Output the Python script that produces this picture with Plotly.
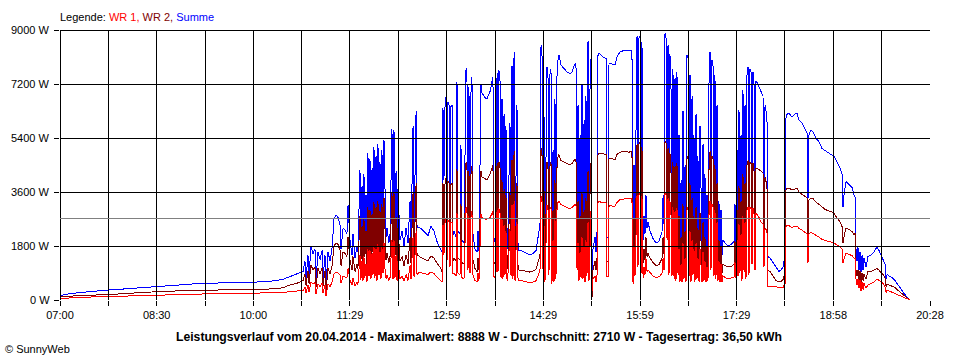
import plotly.graph_objects as go

# ---------------- data ----------------
# time in minutes since midnight, power in W
minutes = [
    420.0, 423.7, 429.3, 438.6, 452.5, 464.6, 480.4, 494.3, 509.2, 526.8, 540.7, 554.7, 573.2, 599.2, 610.4, 619.7, 627.1, 633.6, 640.1, 645.7,
    647.5, 648.5, 650.3, 651.3, 653.1, 655.0, 656.8, 657.8, 659.6, 661.5, 663.4, 664.3, 666.1, 667.1, 668.9, 670.8, 672.7, 674.5, 676.4, 678.2, 680.1, 681.0, 682.9, 684.7, 686.5, 687.5, 689.3, 691.2, 692.1, 694.0, 695.8,
    696.7, 698.6, 699.5, 700.5, 701.4, 702.3, 703.2, 704.2, 705.1, 706.0, 707.0, 707.9, 708.8, 709.8, 710.7, 711.6, 712.5, 713.5, 714.4, 715.3, 716.3, 717.2, 718.1, 719.0, 720.0, 720.9, 721.8, 722.8, 723.7, 725.5, 726.5, 728.3, 729.3, 730.2, 731.1, 732.1, 733.0, 733.9, 735.8,
    737.7, 739.5, 741.4, 743.2, 745.1, 746.0, 747.9, 748.8, 750.7, 751.6, 753.4, 756.2, 759.0, 761.8, 764.5, 767.3, 770.1, 772.9, 774.8,
    775.7, 776.6, 777.6, 778.5, 779.4, 780.3, 781.3, 782.2, 783.1, 784.1, 785.0, 785.9, 787.8, 788.7, 789.6, 791.5, 792.4, 793.3, 795.2, 797.1, 798.0, 798.9, 799.8, 800.8, 801.7, 802.6, 803.5, 805.4, 807.3, 808.2, 809.1, 811.0, 811.9, 814.7, 816.5, 819.4, 822.1, 823.1, 824.9, 825.9, 826.8, 827.7, 828.7, 829.6, 830.5, 831.4, 832.4, 833.3, 834.2, 835.2, 836.1, 837.9, 838.9, 839.8, 840.7, 841.7, 842.6, 844.4, 845.4, 846.3,
    848.1, 850.9, 853.7, 856.5, 859.3, 862.1, 863.9, 865.8,
    866.7, 867.6, 868.6, 869.5, 870.4, 871.4, 872.3, 873.2, 874.1, 875.1, 876.0, 876.9, 877.9, 878.8, 879.7, 880.6, 881.6, 882.5, 883.4, 885.3, 888.1, 890.9, 893.7, 895.5, 897.4, 899.2, 900.2, 901.1, 902.0, 903.0, 903.9, 904.8, 905.7, 906.7, 907.6, 908.5, 909.4, 910.4, 911.3, 912.2, 913.2, 914.1, 915.0, 916.9, 917.8, 918.7, 919.7,
    921.5, 924.3, 927.1, 928.0, 929.0, 929.9, 932.7, 935.4, 937.3, 940.1, 944.7, 948.5, 951.2,
    952.2, 953.1, 954.0, 955.0, 955.9, 956.8, 957.7, 958.7, 959.6, 960.5, 961.5, 962.4, 963.3, 964.2, 965.2, 966.1, 968.0, 970.7, 973.5, 976.3, 979.1, 980.1, 981.0, 981.9, 982.8, 983.8, 984.7, 985.6, 986.5, 987.5, 988.4, 989.3, 990.3, 991.2, 992.1, 993.0,
    994.0, 994.9, 995.8, 996.8, 997.7, 998.6, 999.5, 1000.5, 1001.4, 1002.3, 1003.3, 1004.2, 1005.1, 1006.0, 1007.0, 1007.9, 1008.8, 1009.7, 1010.7, 1011.6, 1012.5, 1013.5, 1014.4, 1016.3, 1017.2, 1018.1, 1019.0, 1020.0, 1020.9,
    1021.8, 1022.8, 1023.7, 1024.6, 1025.5, 1026.5, 1027.4, 1028.3, 1029.2, 1030.2, 1031.1, 1032.0, 1033.0, 1033.9, 1034.8, 1035.7, 1037.6, 1040.4, 1043.2, 1046.0, 1046.9, 1047.8, 1048.8, 1049.7, 1050.6, 1051.5, 1052.5, 1053.4, 1054.3, 1055.3, 1056.2, 1057.1, 1058.0, 1059.0, 1059.9, 1060.8, 1061.8, 1062.7, 1063.6, 1064.5, 1065.5, 1066.4, 1067.3, 1069.2, 1071.0, 1072.9, 1073.8, 1074.8, 1076.6, 1077.5, 1079.4, 1082.2, 1085.0, 1087.7, 1089.6, 1091.5, 1092.4, 1093.3,
    1094.3, 1097.0, 1099.8, 1102.6, 1104.5, 1106.3, 1109.1, 1111.9, 1113.8, 1114.7, 1115.6, 1117.5, 1119.3, 1122.1, 1124.9, 1127.7, 1130.5, 1133.3, 1136.1, 1138.9, 1141.6, 1144.4, 1146.3, 1147.2, 1148.1, 1150.0, 1152.8, 1155.6, 1157.4, 1158.4, 1159.3, 1160.2, 1161.1, 1162.1, 1163.0, 1163.9, 1164.9, 1165.8, 1166.7, 1168.6, 1170.4, 1173.2, 1176.0, 1178.8, 1180.6, 1182.5, 1184.4, 1186.2, 1187.2, 1188.1, 1190.0, 1192.7, 1195.5, 1198.3, 1201.1, 1203.9, 1206.7, 1208.5, 1209.4,
]

summe = [
    150, 180, 210, 250, 300, 330, 370, 400, 430, 490, 530, 555, 575, 590, 605, 640, 690, 780, 850, 950,
    1300, 700, 1500, 800, 1780, 1550, 1700, 650, 1600, 1350, 1650, 700, 1500, 450, 1600, 1300, 1750, 2700, 2830, 2750, 2500, 1700, 2400, 2330, 2200, 3150, 2000, 1500, 2200, 1400, 1800,
    1600, 4330, 2000, 3800, 1900, 4200, 2200, 3500, 1800, 4900, 2300, 4700, 2000, 4400, 2500, 5100, 2100, 4800, 1900, 5200, 2400, 4600, 2000, 5000, 2600, 5330, 3000, 2100, 2400, 1900, 2200, 5700, 2000, 5650, 2200, 4300, 1900, 3700, 2000,
    2300, 1800, 2400, 1900, 3300, 2000, 5800, 2200, 6300, 2400, 2430, 2350, 2250, 2150, 2450, 2300, 1950, 1750, 1600,
    6400, 4000, 6500, 6780, 3500, 6600, 6500, 3000, 6450, 6500, 2170, 2300, 2100, 7270, 2300, 2200, 5170, 2000, 1900, 7730, 7270, 2600, 7100, 2400, 6930, 7430, 2200, 1700, 1600, 2300, 1650, 7170, 6900, 6750, 6700, 6950, 7440, 1950, 2200, 7570, 2500, 7650, 7300, 2000, 6700, 1800, 6200, 2200, 5800, 1700, 2400, 5900, 2100, 7800, 1800, 8270, 1700, 6500, 1800, 1650,
    1650, 1600, 1530, 1500, 1550, 1650, 2070, 2500,
    8440, 8500, 2500, 6200, 1600, 5500, 7770, 7600, 2200, 7570, 7700, 1500, 5000, 1600, 6700, 1800, 7500, 8000, 8170, 7830, 7700, 7600, 7550, 7600, 7800, 7900, 3000, 6500, 1700, 5500, 2000, 7200, 1800, 6000, 1600, 6800, 2100, 8630, 1700, 7000, 8070, 400, 1700, 2100, 1600, 2000, 8230,
    8200, 8100, 8050, 2070, 2100, 7900, 7870, 7830, 8100, 8270, 8330, 8300, 8330,
    1400, 4500, 2000, 5800, 8800, 2800, 8730, 8800, 2200, 8600, 2000, 2800, 2200, 3500, 2400, 2600, 2300, 2050, 1900, 1950, 2270, 3500, 2500, 8890, 8800, 5000, 8500, 2200, 8200, 7000, 2000, 7700, 1800, 7400, 1700, 7600,
    2200, 5500, 1600, 4000, 1500, 6300, 1800, 4500, 1500, 8170, 8070, 2000, 7500, 1600, 6800, 2200, 5500, 1500, 6200, 1800, 4800, 1500, 5800, 1600, 5200, 1700, 4200, 1500, 3500,
    1700, 7400, 8270, 2500, 8000, 7800, 2000, 7500, 1800, 6500, 1700, 3300, 1600, 3000, 1500, 2000, 1900, 1800, 1850, 1950, 3200, 1900, 5000, 2000, 6330, 2300, 5500, 1700, 7000, 2400, 6500, 1800, 7500, 7770, 2200, 7700, 7600, 3000, 7600, 7500, 2500, 7300, 7250, 7100, 6900, 6800, 3000, 6500, 6100, 1450, 1400, 1250, 1100, 950, 1000, 1100, 1300, 1100,
    6170, 6230, 6100, 6200, 6230, 6000, 5900, 5700, 5570, 3400, 5500, 5670, 5600, 5400, 5270, 5050, 4980, 4930, 4870, 4780, 4600, 4400, 4200, 3100, 3500, 3950, 3850, 3750, 3500, 3430, 1700, 1300, 1750, 1000, 1600, 900, 1500, 1000, 1400, 1100, 1450, 1500, 1600, 1770, 1650, 1500, 1400, 1200, 700, 850, 800, 750, 650, 500, 350, 220, 100, 30, 0,
]

wr2 = [
    100, 110, 130, 150, 165, 175, 210, 250, 280, 300, 315, 325, 330, 335, 345, 370, 410, 500, 560, 650,
    850, 480, 980, 550, 1170, 1000, 1100, 450, 1050, 880, 1080, 480, 980, 320, 1050, 870, 1150, 1800, 1900, 1850, 1650, 1150, 1600, 1550, 1450, 2100, 1330, 1000, 1450, 950, 1200,
    1050, 2800, 1300, 2450, 1250, 2700, 1450, 2300, 1200, 3100, 1500, 3000, 1300, 2850, 1600, 3250, 1350, 3100, 1250, 3300, 1550, 2950, 1300, 3200, 1700, 3400, 1900, 1350, 1550, 1250, 1450, 3600, 1300, 3600, 1450, 2750, 1250, 2400, 1300,
    1450, 1150, 1500, 1200, 2100, 1250, 3600, 1400, 3900, 1500, 1450, 1400, 1350, 1300, 1470, 1400, 1230, 1100, 950,
    3900, 2500, 3900, 4050, 2200, 3950, 3900, 1900, 3850, 3900, 1300, 1400, 1300, 4350, 1400, 1350, 3200, 1250, 1200, 4600, 4350, 1600, 4300, 1500, 4200, 4450, 1350, 1050, 950, 1400, 1000, 4300, 4100, 4050, 4000, 4200, 4500, 1200, 1350, 4550, 1550, 4600, 4400, 1250, 4000, 1100, 3700, 1350, 3500, 1050, 1500, 3550, 1300, 4650, 1100, 4950, 1050, 3900, 1100, 1000,
    1000, 980, 950, 930, 960, 1020, 1250, 1500,
    5000, 5050, 1500, 3700, 1000, 3300, 4600, 4500, 1350, 4500, 4600, 950, 3000, 1000, 4000, 1100, 4450, 4750, 4850, 4650, 4600, 4550, 4500, 4550, 4650, 4700, 1600, 3300, 1050, 2800, 1250, 3600, 1100, 3000, 1000, 3400, 1300, 4300, 1050, 3500, 4600, 100, 1000, 1300, 1000, 1250, 4900,
    4900, 4880, 4850, 1300, 1300, 4730, 4700, 4680, 4850, 4930, 4950, 4930, 4950,
    850, 2700, 1200, 3500, 5200, 1700, 5200, 5250, 1350, 5100, 1250, 1700, 1350, 2100, 1450, 1550, 1400, 1250, 1150, 1180, 1380, 2100, 1500, 5300, 5250, 3000, 5050, 1350, 4900, 4200, 1200, 4600, 1100, 4450, 1050, 4550,
    1350, 2800, 1000, 2100, 900, 3200, 1100, 2300, 900, 4700, 4800, 1200, 3900, 1000, 3400, 1350, 2800, 900, 3100, 1100, 2400, 900, 2900, 1000, 2600, 1050, 2100, 900, 1800,
    1050, 4450, 4950, 1500, 4800, 4700, 1200, 4500, 1100, 3900, 1050, 2000, 1000, 1800, 900, 1200, 1150, 1100, 1120, 1180, 1950, 1150, 3000, 1200, 3800, 1400, 3300, 1050, 4200, 1450, 3900, 1100, 4500, 4650, 1350, 4600, 4550, 1800, 4550, 4500, 1500, 4400, 4400, 4350, 4300, 4250, 1900, 4100, 3800, 1000, 950, 800, 650, 600, 620, 680, 800, 650,
    3730, 3720, 3680, 3700, 3730, 3600, 3530, 3450, 3400, 2100, 3330, 3400, 3380, 3270, 3180, 3100, 3020, 2980, 2950, 2880, 2750, 2600, 2450, 1900, 2100, 2400, 2350, 2280, 2180, 2230, 1000, 800, 1000, 600, 950, 600, 900, 650, 850, 700, 950, 950, 1000, 1050, 1000, 900, 850, 750, 450, 520, 500, 470, 420, 320, 230, 140, 60, 20, 0,
]

wr1 = [
    40, 60, 70, 90, 105, 115, 130, 145, 160, 180, 200, 210, 220, 225, 235, 250, 270, 270, 300, 310,
    430, 230, 500, 260, 600, 530, 580, 200, 540, 450, 560, 230, 500, 130, 540, 440, 600, 880, 920, 900, 830, 570, 800, 780, 740, 1050, 670, 500, 740, 460, 600,
    520, 1500, 680, 1300, 650, 1450, 750, 1200, 600, 1700, 800, 1650, 700, 1550, 850, 1800, 720, 1700, 650, 1850, 820, 1600, 700, 1750, 900, 1900, 1050, 720, 820, 650, 750, 2000, 700, 2000, 750, 1500, 650, 1300, 700,
    800, 620, 850, 650, 1150, 700, 2100, 780, 2300, 850, 920, 900, 880, 850, 940, 880, 760, 650, 600,
    2500, 1500, 2600, 2700, 1300, 2650, 2600, 1100, 2600, 2600, 870, 900, 800, 2900, 900, 850, 2000, 750, 700, 3100, 2900, 1000, 2800, 900, 2750, 2950, 850, 650, 600, 900, 650, 2850, 2750, 2700, 2700, 2750, 2950, 750, 850, 3000, 950, 3050, 2900, 750, 2700, 700, 2500, 850, 2300, 650, 900, 2350, 800, 3150, 700, 3300, 650, 2600, 700, 650,
    650, 620, 600, 580, 600, 640, 800, 1000,
    3400, 3450, 1000, 2500, 600, 2200, 3150, 3100, 850, 3050, 3100, 550, 2000, 600, 2700, 700, 3050, 3250, 3300, 3180, 3120, 3080, 3050, 3080, 3150, 3200, 1000, 1900, 650, 1600, 750, 2100, 700, 1800, 600, 2000, 800, 2600, 650, 2100, 3000, 300, 700, 800, 600, 750, 3300,
    3270, 3250, 3230, 800, 800, 3150, 3130, 3120, 3250, 3350, 3370, 3370, 3380,
    550, 1800, 800, 2300, 3500, 1100, 3500, 3550, 850, 3450, 750, 1100, 850, 1400, 950, 1000, 900, 800, 750, 770, 880, 1400, 1000, 3550, 3520, 2000, 3400, 850, 3300, 2800, 800, 3100, 700, 2950, 650, 3050,
    850, 1700, 600, 1200, 600, 1900, 700, 1400, 600, 3000, 3100, 800, 2300, 600, 2000, 850, 1700, 600, 1900, 700, 1400, 600, 1700, 600, 1600, 650, 1300, 600, 1100,
    650, 2950, 3300, 1000, 3200, 3100, 800, 3000, 700, 2600, 650, 1300, 600, 1200, 600, 800, 750, 700, 730, 770, 1250, 750, 2000, 800, 2530, 900, 2200, 650, 2800, 950, 2600, 700, 3000, 3100, 850, 3100, 3050, 1200, 3050, 3000, 1000, 2900, 2850, 2750, 2600, 2550, 1100, 2400, 2300, 450, 450, 450, 450, 400, 400, 420, 480, 450,
    2470, 2480, 2420, 2450, 2470, 2380, 2330, 2250, 2200, 1250, 2200, 2250, 2220, 2150, 2100, 2020, 1980, 1950, 1930, 1900, 1830, 1780, 1700, 1250, 1350, 1560, 1520, 1480, 1400, 1400, 700, 500, 700, 400, 650, 300, 600, 350, 550, 400, 500, 550, 600, 700, 650, 600, 550, 450, 250, 330, 300, 280, 230, 180, 120, 80, 40, 10, 0,
]

average_w = 2710

grid_minutes = [420.0, 464.9, 509.8, 554.7, 599.6, 644.4, 689.3, 734.2, 779.1, 824.0,
                868.9, 913.8, 958.7, 1003.6, 1048.4, 1093.3, 1138.2, 1183.1, 1228.0]
x_tick_labels = ["07:00", "", "08:30", "", "10:00", "", "11:29", "", "12:59", "",
                 "14:29", "", "15:59", "", "17:29", "", "18:58", "", "20:28"]
y_ticks = [0, 1800, 3600, 5400, 7200, 9000]
y_tick_labels = ["0 W", "1800 W", "3600 W", "5400 W", "7200 W", "9000 W"]

footer_text = ("Leistungsverlauf vom 20.04.2014 - Maximalwert: 8888 W - "
               "Durchschnitt: 2710 W - Tagesertrag: 36,50 kWh")

assert len(minutes) == len(summe) == len(wr1) == len(wr2), (len(minutes), len(summe), len(wr1), len(wr2))

FONT = "Liberation Sans, Arial, sans-serif"
BLUE, DARK_RED, RED, GRAY = "#0000FF", "#800000", "#FF0000", "#808080"

fig = go.Figure()
for name, vals, color in [("Summe", summe, BLUE), ("WR 2", wr2, DARK_RED), ("WR 1", wr1, RED)]:
    fig.add_trace(go.Scatter(x=minutes, y=vals, mode="lines", name=name,
                             line=dict(color=color, width=1), showlegend=False,
                             hoverinfo="skip"))

shapes = []
for gx in grid_minutes:
    shapes.append(dict(type="line", xref="x", yref="paper", x0=gx, x1=gx, y0=0, y1=1,
                       line=dict(color="black", width=1), layer="above"))
for gy in y_ticks:
    shapes.append(dict(type="line", xref="paper", yref="y", x0=0, x1=1, y0=gy, y1=gy,
                       line=dict(color="black", width=1), layer="above"))
shapes.append(dict(type="line", xref="paper", yref="y", x0=0, x1=1, y0=average_w, y1=average_w,
                   line=dict(color=GRAY, width=1), layer="above"))

legend_html = ("Legende: <span style='color:%s'>WR 1, </span>"
               "<span style='color:%s'>WR 2, </span>"
               "<span style='color:%s'>Summe</span>") % (RED, DARK_RED, BLUE)

annotations = [
    dict(text=legend_html, xref="paper", yref="paper", x=-0.0023, y=1.048,
         xanchor="left", yanchor="middle", showarrow=False,
         font=dict(family=FONT, size=11, color="black")),
    dict(text="<b>" + footer_text + "</b>", xref="paper", yref="paper", x=0.4816, y=-0.137,
         xanchor="center", yanchor="middle", showarrow=False,
         font=dict(family=FONT, size=12.2, color="black")),
    dict(text="© SunnyWeb", xref="paper", yref="paper", x=-0.0655, y=-0.1815,
         xanchor="left", yanchor="middle", showarrow=False,
         font=dict(family=FONT, size=11, color="black")),
]
# y-axis tick labels, right-aligned left of the tick marks
for val, lab in zip(y_ticks, y_tick_labels):
    annotations.append(dict(text=lab, xref="paper", yref="y", x=-0.0092, y=val,
                            xanchor="right", yanchor="middle", showarrow=False,
                            font=dict(family=FONT, size=11, color="black")))

fig.update_layout(
    width=960, height=360,
    margin=dict(l=60, r=30, t=30, b=60),
    paper_bgcolor="white", plot_bgcolor="white",
    font=dict(family=FONT, size=11, color="black"),
    shapes=shapes,
    xaxis=dict(range=[grid_minutes[0], grid_minutes[-1]], tickmode="array",
               tickvals=grid_minutes, ticktext=x_tick_labels,
               ticks="outside", ticklen=5, tickcolor="black", tickwidth=1,
               showgrid=False, zeroline=False, showline=False,
               tickfont=dict(family=FONT, size=11, color="black")),
    yaxis=dict(range=[0, 9000], tickmode="array", tickvals=y_ticks,
               showticklabels=False,
               ticks="outside", ticklen=5, tickcolor="black", tickwidth=1,
               showgrid=False, zeroline=False, showline=False),
    annotations=annotations,
)

post_js = (
    "document.body.style.margin='0px';"
    "document.querySelectorAll('.scatterlayer path, .shapelayer path').forEach("
    "function(p){p.style.shapeRendering='crispEdges';});"
)

fig.write_html("out.html", post_script=post_js, config={"displayModeBar": False})
